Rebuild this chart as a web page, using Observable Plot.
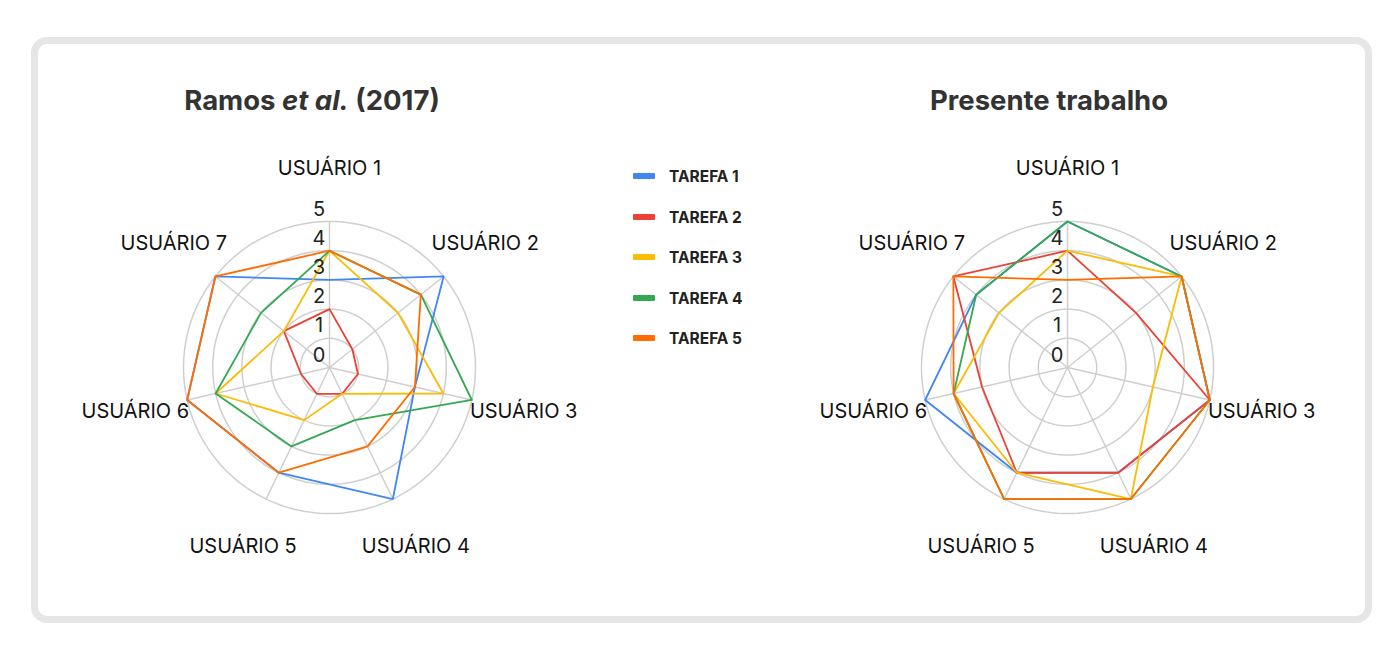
<!DOCTYPE html>
<html>
<head>
<meta charset="utf-8">
<script src="https://cdn.jsdelivr.net/npm/d3@7"></script>
<script src="https://cdn.jsdelivr.net/npm/@observablehq/plot@0.6"></script>
<style>
  html, body { margin: 0; padding: 0; background: #fff; width: 1399px; height: 660px; overflow: hidden; font-family: Inter, Roboto, sans-serif; }
  #card { position: absolute; left: 31px; top: 37px; width: 1341px; height: 586px; box-sizing: border-box; border: 7px solid #e6e6e6; border-radius: 16px; background: #fff; }
  .title { position: absolute; transform: translate(-50%, -50%); font-family: Inter, sans-serif; font-weight: 700; font-size: 27.5px; color: #333; white-space: nowrap; }
  .chart { position: absolute; }
  .leg-sw { position: absolute; width: 22px; height: 6px; border-radius: 1px; }
  .leg-tx { position: absolute; transform: translateY(-50%); font-family: Inter, sans-serif; font-weight: 700; font-size: 15.5px; color: #222; white-space: nowrap; }
</style>
</head>
<body>
<div id="card"></div>
<div class="title" style="left:312px; top:100px;">Ramos <i>et al.</i> (2017)</div>
<div class="title" style="left:1049px; top:100px;">Presente trabalho</div>
<div id="legend"></div>
<div id="left" class="chart"></div>
<div id="right" class="chart"></div>
<script>
// ---- data ----
const categories = ["USUÁRIO 1", "USUÁRIO 2", "USUÁRIO 3", "USUÁRIO 4", "USUÁRIO 5", "USUÁRIO 6", "USUÁRIO 7"];
const seriesNames = ["TAREFA 1", "TAREFA 2", "TAREFA 3", "TAREFA 4", "TAREFA 5"];
const seriesColors = ["#4285F4", "#EA4335", "#FBBC04", "#34A853", "#FF6D01"];
const tickValues = [0, 1, 2, 3, 4, 5];

// Ramos et al. (2017)
const ramosT1 = [3, 5, 3, 5, 4, 5, 5];
const ramosT2 = [2, 1, 1, 1, 1, 1, 2];
const ramosT3 = [4, 3, 4, 1, 2, 4, 2];
const ramosT4 = [4, 4, 5, 2, 3, 4, 3];
const ramosT5 = [4, 4, 3, 3, 4, 5, 5];

// Presente trabalho
const presT1 = [5, 5, 5, 4, 4, 5, 4];
const presT2 = [4, 3, 5, 4, 4, 3, 5];
const presT3 = [4, 5, 3, 5, 4, 4, 3];
const presT4 = [5, 5, 5, 5, 5, 4, 4];
const presT5 = [3, 5, 5, 5, 5, 4, 5];

// ---- layout ----
const W = 496, H = 438;
const maxV = 5;
const labelR = 6.82;
const n = categories.length;
const ang = i => i * 2 * Math.PI / n;

function radar(el, cx, cy, seriesList) {
  const ringRows = [];
  for (const t of tickValues.filter(t => t > 0)) {
    for (const deg of d3.range(0, 361, 2)) ringRows.push({ring: t, a: deg * Math.PI / 180});
  }
  const marks = [
    Plot.line(ringRows, {x: d => d.ring * Math.sin(d.a), y: d => d.ring * Math.cos(d.a), z: "ring", stroke: "#cfcfcf", strokeWidth: 1.5}),
    Plot.link(categories, {x1: () => 0, y1: () => 0, x2: (d, i) => maxV * Math.sin(ang(i)), y2: (d, i) => maxV * Math.cos(ang(i)), stroke: "#cfcfcf", strokeWidth: 1.5})
  ];
  seriesList.forEach((vals, s) => {
    const rows = vals.map((v, i) => ({cat: categories[i], v, i}));
    marks.push(Plot.line(rows, {x: d => d.v * Math.sin(ang(d.i)), y: d => d.v * Math.cos(ang(d.i)), curve: "linear-closed", stroke: seriesColors[s], strokeWidth: 1.8}));
  });
  marks.push(Plot.text(tickValues, {x: () => -0.36, y: d => d + 0.42, text: d => String(d), fontSize: 20, fill: "#222"}));
  marks.push(Plot.text(categories, {x: (d, i) => labelR * Math.sin(ang(i)), y: (d, i) => labelR * Math.cos(ang(i)), text: d => d, fontSize: 20, fill: "#111"}));
  const svg = Plot.plot({
    width: W, height: H, margin: 0,
    x: {domain: [-W / 2 / 29.2, W / 2 / 29.2], axis: null},
    y: {domain: [-H / 2 / 29.2, H / 2 / 29.2], axis: null},
    style: {fontFamily: "Inter, sans-serif", overflow: "visible", background: "transparent"},
    marks
  });
  const host = document.getElementById(el);
  host.style.left = (cx - W / 2) + "px";
  host.style.top = (cy - H / 2) + "px";
  host.appendChild(svg);
}

radar("left", 329.3, 366.7, [ramosT1, ramosT2, ramosT3, ramosT4, ramosT5]);
radar("right", 1066.7, 366.7, [presT1, presT2, presT3, presT4, presT5]);

// legend
const leg = document.getElementById("legend");
seriesNames.forEach((name, i) => {
  const y = 176 + 40.5 * i;
  const sw = document.createElement("div");
  sw.className = "leg-sw";
  sw.style.left = "633px"; sw.style.top = (y - 3) + "px"; sw.style.background = seriesColors[i];
  leg.appendChild(sw);
  const tx = document.createElement("div");
  tx.className = "leg-tx";
  tx.style.left = "669px"; tx.style.top = y + "px";
  tx.textContent = name;
  leg.appendChild(tx);
});
</script>
</body>
</html>
